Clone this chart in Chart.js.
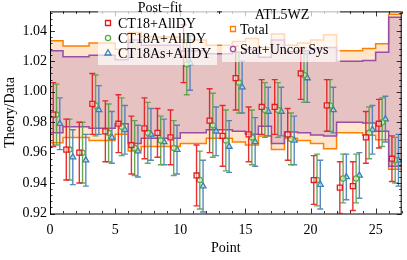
<!DOCTYPE html>
<html>
<head>
<meta charset="utf-8">
<script src="https://cdn.jsdelivr.net/npm/chart.js@4.4.1/dist/chart.umd.min.js"></script>
<style>
  body { margin: 0; background: #fff; }
</style>
</head>
<body>
<canvas id="chart" width="407" height="260"></canvas>
<script>
// data point index (bin 0..26)
var points = [0,1,2,3,4,5,6,7,8,9,10,11,12,13,14,15,16,17,18,19,20,21,22,23,24,25,26];

// theory/data, post-fit
var ct18 =      [0.985,0.962,0.960,0.992,0.974,0.979,0.965,0.976,0.973,0.970,1.025,0.945,0.981,0.971,1.009,0.972,0.990,0.990,0.972,1.012,0.942,0.991,0.937,0.938,0.970,0.979,0.956];
var ct18Err =   [0.021,0.020,0.020,0.020,0.020,0.019,0.019,0.020,0.016,0.018,0.019,0.020,0.021,0.020,0.021,0.018,0.018,0.018,0.017,0.017,0.016,0.017,0.017,0.016,0.017,0.016,0.015];
var ct18a =     [0.985,0.962,0.960,0.991,0.973,0.977,0.963,0.973,0.968,0.963,1.018,0.942,0.978,0.968,1.006,0.970,0.988,0.988,0.969,1.011,0.942,0.991,0.943,0.943,0.973,0.980,0.955];
var ct18aErr =  [0.020,0.020,0.020,0.020,0.019,0.019,0.018,0.020,0.016,0.018,0.020,0.019,0.021,0.020,0.020,0.018,0.018,0.018,0.017,0.018,0.017,0.017,0.016,0.016,0.017,0.016,0.015];
var ct18as =    [0.979,0.957,0.955,0.988,0.970,0.975,0.961,0.972,0.967,0.962,1.019,0.938,0.974,0.964,1.003,0.967,0.987,0.987,0.968,1.009,0.939,0.988,0.944,0.945,0.975,0.982,0.955];
var ct18asErr = [0.017,0.018,0.017,0.016,0.017,0.016,0.017,0.017,0.015,0.016,0.018,0.017,0.016,0.017,0.017,0.016,0.016,0.016,0.016,0.016,0.016,0.015,0.015,0.015,0.016,0.015,0.017];

// ATL5WZ relative uncertainties (half widths around 1)
var totalUnc = [0.0335,0.030,0.030,0.032,0.032,0.028,0.039,0.036,0.036,0.036,0.034,0.034,0.0305,0.0305,0.033,0.035,0.029,0.038,0.0305,0.032,0.034,0.0375,0.027,0.027,0.0285,0.0316,0.051];
var statUnc =  [0.027,0.023,0.023,0.024,0.024,0.021,0.034,0.0305,0.0305,0.0305,0.027,0.027,0.025,0.025,0.026,0.028,0.0226,0.034,0.0264,0.027,0.0284,0.029,0.020,0.020,0.0205,0.026,0.049];

var xTicks = [0,5,10,15,20,25];
var yTicks = [0.92,0.94,0.96,0.98,1.00,1.02,1.04];

var RED = '#e41a1c', GREEN = '#4daf4a', BLUE = '#377eb8', ORANGE = '#ff7f00', PURPLE = '#984ea3';
var SERIF = '"Liberation Serif", "DejaVu Serif", serif';

function series(vals, shift) {
  return points.map(function (p, i) { return { x: p + shift, y: vals[i] }; });
}
function band(unc, sign) {
  var d = points.map(function (p, i) { return { x: p, y: 1 + sign * unc[i] }; });
  d.push({ x: points.length, y: 1 + sign * unc[unc.length - 1] });
  return d;
}

var errorBars = {
  id: 'errorBars',
  beforeDatasetDraw: function (chart, args) {
    var ds = chart.data.datasets[args.index];
    if (!ds.errors) return;
    var ctx = chart.ctx, xs = chart.scales.x, ys = chart.scales.y, a = chart.chartArea;
    ctx.save();
    ctx.beginPath();
    ctx.rect(a.left, a.top, a.right - a.left, a.bottom - a.top);
    ctx.clip();
    ctx.strokeStyle = ds.barColor;
    ctx.lineWidth = 1.4;
    ds.data.forEach(function (pt, i) {
      var x = xs.getPixelForValue(pt.x);
      var y1 = ys.getPixelForValue(pt.y + ds.errors[i]);
      var y2 = ys.getPixelForValue(pt.y - ds.errors[i]);
      ctx.beginPath();
      ctx.moveTo(x, y1); ctx.lineTo(x, y2);
      ctx.moveTo(x - 3, y1); ctx.lineTo(x + 3, y1);
      ctx.moveTo(x - 3, y2); ctx.lineTo(x + 3, y2);
      ctx.stroke();
    });
    ctx.restore();
  }
};

function drawMarker(ctx, style, x, y, color) {
  ctx.save();
  ctx.strokeStyle = color;
  ctx.fillStyle = 'rgba(255,255,255,0.5)';
  ctx.lineWidth = 1.3;
  ctx.beginPath();
  if (style === 'rect') ctx.rect(x - 2.5, y - 2.5, 5, 5);
  else if (style === 'circle') ctx.arc(x, y, 2.6, 0, Math.PI * 2);
  else { ctx.moveTo(x, y - 3.3); ctx.lineTo(x + 3, y + 2); ctx.lineTo(x - 3, y + 2); ctx.closePath(); }
  ctx.fill();
  ctx.stroke();
  ctx.restore();
}

var frameAndLegends = {
  id: 'frameAndLegends',
  afterDraw: function (chart) {
    var ctx = chart.ctx, a = chart.chartArea, xs = chart.scales.x, ys = chart.scales.y;
    ctx.save();
    // inward ticks on all four sides
    ctx.strokeStyle = '#000';
    ctx.lineWidth = 0.8;
    ctx.beginPath();
    for (var v = 0; v <= 27; v++) {
      var px = Math.round(xs.getPixelForValue(v)) + 0.5;
      var len = (v % 5 === 0) ? 5 : 2.5;
      ctx.moveTo(px, a.bottom); ctx.lineTo(px, a.bottom - len);
      ctx.moveTo(px, a.top); ctx.lineTo(px, a.top + len);
    }
    for (var k = 0; k <= 33; k++) {
      var yv = 0.92 + k * 0.004;
      var py = Math.round(ys.getPixelForValue(yv)) + 0.5;
      if (py < a.top) continue;
      var ylen = (k % 5 === 0) ? 5 : 2.5;
      ctx.moveTo(a.left, py); ctx.lineTo(a.left + ylen, py);
      ctx.moveTo(a.right, py); ctx.lineTo(a.right - ylen, py);
    }
    ctx.stroke();
    ctx.lineWidth = 1;
    ctx.strokeRect(a.left + 0.5, a.top + 0.5, a.right - a.left - 1, a.bottom - a.top);

    // legend: Post-fit
    ctx.fillStyle = 'rgba(255,255,255,0.7)';
    ctx.fillRect(98, 1, 119, 64);
    ctx.fillStyle = '#000';
    ctx.font = '14px ' + SERIF;
    ctx.textBaseline = 'middle';
    ctx.textAlign = 'center';
    ctx.fillText('Post\u2212fit', 160, 8);
    ctx.textAlign = 'left';
    var l1 = [['rect', RED, 'CT18+AllDY'], ['circle', GREEN, 'CT18A+AllDY'], ['triangle', BLUE, 'CT18As+AllDY']];
    l1.forEach(function (e, i) {
      var yy = 23 + i * 15;
      drawMarker(ctx, e[0], 108, yy, e[1]);
      ctx.fillStyle = '#000';
      ctx.fillText(e[2], 118, yy + 1);
    });

    // legend: ATL5WZ
    ctx.fillStyle = 'rgba(255,255,255,0.7)';
    ctx.fillRect(222, 5, 118, 57);
    ctx.fillStyle = '#000';
    ctx.textAlign = 'center';
    ctx.fillText('ATL5WZ', 282, 15);
    ctx.textAlign = 'left';
    drawMarker(ctx, 'rect', 233, 29, ORANGE);
    ctx.fillStyle = '#000';
    ctx.fillText('Total', 240, 30);
    drawMarker(ctx, 'circle', 233, 49, PURPLE);
    ctx.fillStyle = '#000';
    ctx.fillText('Stat+Uncor Sys', 240, 50);

    // axis titles
    ctx.font = '14px ' + SERIF;
    ctx.textAlign = 'center';
    ctx.fillText('Point', (a.left + a.right) / 2, 248);
    ctx.translate(10, (a.top + a.bottom) / 2);
    ctx.rotate(-Math.PI / 2);
    ctx.fillText('Theory/Data', 0, 0);
    ctx.restore();
  }
};

function markerSet(label, vals, errs, shift, color, bar, style, order) {
  return {
    type: 'scatter',
    label: label,
    data: series(vals, shift),
    errors: errs,
    barColor: bar,
    pointStyle: style,
    pointRadius: style === 'rect' ? 3.5 : (style === 'circle' ? 2.6 : 3.4),
    pointBorderWidth: 1.3,
    borderColor: color,
    backgroundColor: 'rgba(255,255,255,0.5)',
    order: order
  };
}
function bandLine(label, data, color, fill, fillColor, order) {
  return {
    type: 'line',
    label: label,
    data: data,
    stepped: true,
    borderColor: color,
    borderWidth: 1.5,
    pointRadius: 0,
    fill: fill,
    backgroundColor: fillColor,
    order: order
  };
}

var ctx = document.getElementById('chart').getContext('2d');
var myChart = new Chart(ctx, {
  data: {
    datasets: [
      markerSet('CT18+AllDY', ct18, ct18Err, 0.25, RED, 'rgba(228,26,28,0.9)', 'rect', 0),
      markerSet('CT18A+AllDY', ct18a, ct18aErr, 0.5, GREEN, 'rgba(90,160,70,0.9)', 'circle', 1),
      markerSet('CT18As+AllDY', ct18as, ct18asErr, 0.75, BLUE, 'rgba(70,125,185,0.9)', 'triangle', 2),
      bandLine('Total', band(totalUnc, 1), ORANGE, { target: 4 }, 'rgba(255,127,0,0.2)', 10),
      bandLine('Total low', band(totalUnc, -1), ORANGE, false, 'transparent', 11),
      bandLine('Stat+Uncor Sys', band(statUnc, 1), PURPLE, { target: 6 }, 'rgba(152,78,163,0.24)', 5),
      bandLine('Stat low', band(statUnc, -1), PURPLE, false, 'transparent', 6)
    ]
  },
  options: {
    responsive: false,
    animation: false,
    layout: { padding: { left: 0, right: 1, top: 1, bottom: 0 } },
    plugins: {
      legend: { display: false },
      tooltip: { enabled: false },
      filler: { drawTime: 'beforeDatasetsDraw' }
    },
    scales: {
      x: {
        type: 'linear', min: 0, max: 27,
        afterFit: function (s) { s.height = 46.5; },
        afterBuildTicks: function (s) { s.ticks = xTicks.map(function (v) { return { value: v }; }); },
        grid: { display: false, drawTicks: false },
        border: { display: false },
        ticks: { padding: 8, color: '#000', font: { family: SERIF, size: 14 } }
      },
      y: {
        type: 'linear', min: 0.92, max: 1.0528,
        afterFit: function (s) { s.width = 50; },
        afterBuildTicks: function (s) { s.ticks = yTicks.map(function (v) { return { value: v }; }); },
        grid: { display: false, drawTicks: false },
        border: { display: false },
        ticks: { padding: 3, color: '#000', font: { family: SERIF, size: 14 },
                 callback: function (v) { return Number(v).toFixed(2); } }
      }
    }
  },
  plugins: [errorBars, frameAndLegends]
});
</script>
</body>
</html>
